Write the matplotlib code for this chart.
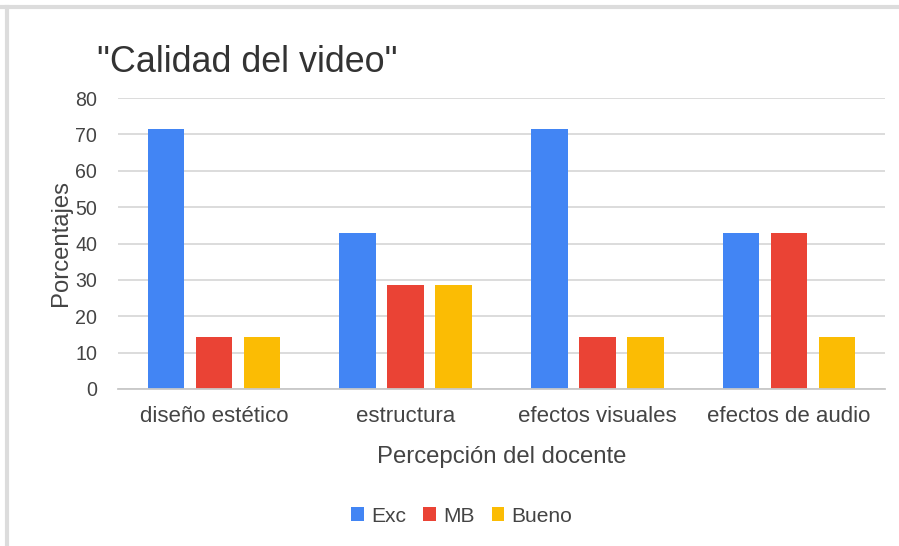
import matplotlib
matplotlib.use("Agg")
import matplotlib.pyplot as plt
import numpy as np
from matplotlib.lines import Line2D

categories = ["diseño estético", "estructura", "efectos visuales", "efectos de audio"]
series_names = ["Exc", "MB", "Bueno"]
exc = [71.4, 42.9, 71.4, 42.9]
mb = [14.3, 28.6, 14.3, 42.9]
bueno = [14.3, 28.6, 14.3, 14.3]
yticks = [0, 10, 20, 30, 40, 50, 60, 70, 80]
colors = ["#4285F4", "#EA4335", "#FBBC04"]

plt.rcParams['font.family'] = ['Liberation Sans', 'DejaVu Sans']
k = 0.82

fig = plt.figure(figsize=(8.99, 5.46), dpi=100)

# outer frame lines
fig.add_artist(Line2D([0, 1], [1 - 7/546, 1 - 7/546], color="#dcdcdc", lw=3, transform=fig.transFigure))
fig.add_artist(Line2D([7/899, 7/899], [0, 1 - 7/546], color="#dcdcdc", lw=3, transform=fig.transFigure))

ax = fig.add_axes([118/899, 1 - 389/546, 767/899, 291/546])
x = np.arange(len(categories))
w = 0.19
off = 0.25
for i, (vals, name) in enumerate(zip([exc, mb, bueno], series_names)):
    ax.bar(x + (i - 1) * off, vals, width=w, color=colors[i], label=name, zorder=3)

ax.set_xlim(-0.5, len(categories) - 0.5)
ax.set_ylim(0, 80)
ax.set_yticks(yticks)
ax.set_yticklabels([str(t) for t in yticks])
ax.set_xticks(x)
ax.set_xticklabels(categories)
ax.grid(axis="y", color="#d9d9d9", lw=1.3, zorder=0)
for s in ["top", "right", "left"]:
    ax.spines[s].set_visible(False)
ax.spines["bottom"].set_color("#c8c8c8")
ax.spines["bottom"].set_linewidth(1.3)
ax.spines["bottom"].set_zorder(4)
ax.tick_params(axis="y", length=0, labelsize=17.2 * k, colors="#444444", pad=15)
ax.tick_params(axis="x", length=0, labelsize=19.5 * k, colors="#444444", pad=12)

ax.set_ylabel("Porcentajes", fontsize=21 * k, color="#444444", labelpad=2)
ax.set_xlabel("Percepción del docente", fontsize=21 * k, color="#444444", labelpad=14)

fig.text(97/899, 1 - 63/546, '"Calidad del video"', fontsize=31.5 * k, color="#333333", va="center", ha="left")

leg = fig.legend(loc="center", bbox_to_anchor=(462/899, 1 - 516/546), ncol=3, frameon=False,
                 prop={'size': 18.5 * k}, handlelength=0.6, handleheight=0.6, handletextpad=0.35,
                 columnspacing=0.8)
for t in leg.get_texts():
    t.set_color("#444444")

fig.savefig("out.png", dpi=100, facecolor="white")
